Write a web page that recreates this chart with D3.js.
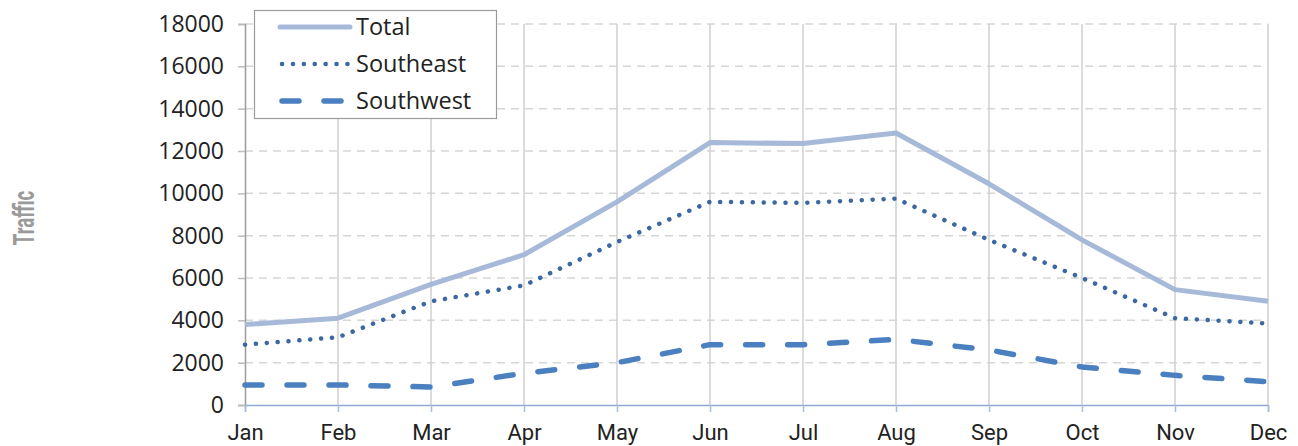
<!DOCTYPE html>
<html>
<meta charset="utf-8">
<style>
body { margin: 0; background: #fff; }
svg text { font-family: "Open Sans", sans-serif; fill: #222; }
</style>
<head>
<script src="https://d3js.org/d3.v7.min.js"></script>
</head>
<body>
<script>
// chart data
var months = ["Jan", "Feb", "Mar", "Apr", "May", "Jun", "Jul", "Aug", "Sep", "Oct", "Nov", "Dec"];
var total = [3800, 4100, 5700, 7100, 9600, 12400, 12350, 12850, 10450, 7800, 5450, 4900];
var southeast = [2850, 3200, 4900, 5650, 7700, 9600, 9550, 9750, 7800, 6000, 4100, 3850];
var southwest = [950, 950, 850, 1500, 2000, 2850, 2850, 3100, 2600, 1800, 1400, 1100];
var yTicks = [0, 2000, 4000, 6000, 8000, 10000, 12000, 14000, 16000, 18000];

var W = 1298, H = 446;
var plotL = 245, plotR = 1268, plotT = 24, plotB = 405;

var svg = d3.select("body").append("svg")
    .attr("width", W)
    .attr("height", H);

var x = d3.scalePoint().domain(months).range([plotL, plotR]);
var y = d3.scaleLinear().domain([0, 18000]).range([plotB, plotT]);

// horizontal dashed grid
svg.append("g").selectAll("line")
    .data(yTicks.slice(1))
  .enter().append("line")
    .attr("x1", plotL).attr("x2", plotR)
    .attr("y1", function(d) { return y(d); })
    .attr("y2", function(d) { return y(d); })
    .attr("stroke", "#d6d6d6")
    .attr("stroke-width", 1.5)
    .attr("stroke-dasharray", "8 6");

// vertical grid
svg.append("g").selectAll("line")
    .data(months.slice(1))
  .enter().append("line")
    .attr("x1", function(d) { return x(d); })
    .attr("x2", function(d) { return x(d); })
    .attr("y1", plotT).attr("y2", plotB)
    .attr("stroke", "#cfcfcf")
    .attr("stroke-width", 1.5);

// y axis
var yAxis = svg.append("g")
    .attr("transform", "translate(" + plotL + ",0)")
    .call(d3.axisLeft(y).tickValues(yTicks).tickFormat(d3.format("d")).tickSize(7).tickPadding(14));
yAxis.select(".domain").attr("stroke", "#9a9a9a").attr("stroke-width", 1.5);
yAxis.selectAll(".tick line").attr("stroke", "#bdbdbd").attr("stroke-width", 1.5);
yAxis.selectAll("text").attr("font-size", 23).attr("fill", "#222").style("font-family", "'Open Sans', sans-serif");

// x axis
var xAxis = svg.append("g")
    .attr("transform", "translate(0," + plotB + ")")
    .call(d3.axisBottom(x).tickSize(7).tickPadding(12));
xAxis.select(".domain").attr("stroke", "#8eaad2").attr("stroke-width", 1.5);
xAxis.selectAll(".tick line").attr("stroke", "#a9bcd9").attr("stroke-width", 1.5);
xAxis.selectAll("text").attr("font-size", 22).attr("fill", "#222")
    .style("font-family", "'Roboto', sans-serif");

// y title (tall, condensed)
svg.append("text")
    .attr("transform", "translate(34,218) rotate(-90) scale(0.62,1)")
    .attr("text-anchor", "middle")
    .attr("font-size", 30)
    .attr("font-weight", "bold")
    .style("font-family", "'Roboto', sans-serif")
    .style("fill", "#9a9a9a")
    .text("Traffic");

var line = d3.line()
    .x(function(d, i) { return x(months[i]); })
    .y(function(d) { return y(d); });

var series = [
  {name: "Total", values: total, color: "#a6b9d9", width: 5, dash: null, cap: "butt"},
  {name: "Southeast", values: southeast, color: "#3b68a3", width: 4.5, dash: "0.1 10.8", cap: "round"},
  {name: "Southwest", values: southwest, color: "#4a7fc0", width: 5.5, dash: "17 25", cap: "round"}
];

svg.append("g").selectAll("path")
    .data(series)
  .enter().append("path")
    .attr("d", function(d) { return line(d.values); })
    .attr("fill", "none")
    .attr("stroke", function(d) { return d.color; })
    .attr("stroke-width", function(d) { return d.width; })
    .attr("stroke-dasharray", function(d) { return d.dash; })
    .attr("stroke-linecap", function(d) { return d.cap; })
    .attr("stroke-linejoin", "round");

// legend
var legend = svg.append("g").attr("transform", "translate(254,10)");
legend.append("rect")
    .attr("x", 0.5).attr("y", 0.5)
    .attr("width", 242).attr("height", 108)
    .attr("fill", "#fff")
    .attr("stroke", "#9a9a9a")
    .attr("stroke-width", 1.2);

var item = legend.selectAll("g.item")
    .data(series)
  .enter().append("g")
    .attr("class", "item")
    .attr("transform", function(d, i) { return "translate(0," + (17 + i * 37) + ")"; });

item.append("line")
    .attr("x1", function(d) { return d.cap == "round" ? 28 : 26; })
    .attr("x2", 96)
    .attr("stroke", function(d) { return d.color; })
    .attr("stroke-width", function(d) { return d.width; })
    .attr("stroke-dasharray", function(d) { return d.dash; })
    .attr("stroke-linecap", function(d) { return d.name == "Total" ? "round" : d.cap; });

item.append("text")
    .attr("x", 102)
    .attr("y", 8)
    .attr("font-size", 23.5)
    .text(function(d) { return d.name; });
</script>
</body>
</html>
